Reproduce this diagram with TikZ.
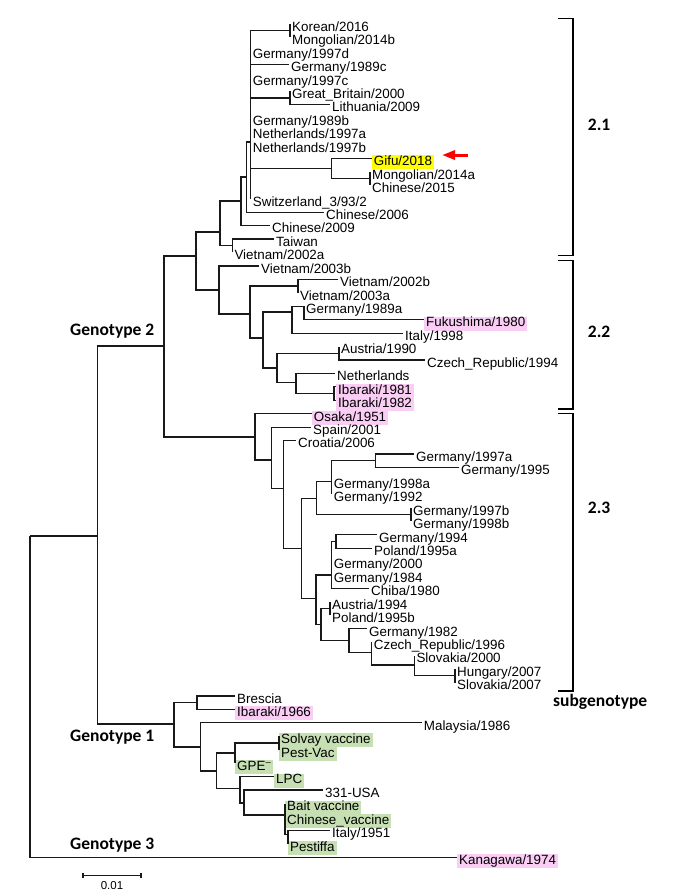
\documentclass[tikz,border=0pt]{standalone}
\usepackage{fontspec}
\setmainfont{Liberation Sans}
\newfontfamily\calibri{Carlito}
\usetikzlibrary{arrows.meta}
\definecolor{pinkhl}{RGB}{250,205,245}
\definecolor{greenhl}{RGB}{198,224,180}
\definecolor{gifuhl}{RGB}{255,255,0}

\begin{document}
\begin{tikzpicture}[x=1pt, y=-13.44pt,
  branch/.style={line width=1.2pt, black!90},
  leaf/.style={inner xsep=2pt, inner ysep=0.7pt, text height=9.6pt, text depth=3pt, yshift=-4pt, font=\fontsize{13.4}{15}\selectfont},
  pinkleaf/.style={leaf, fill=pinkhl},
  greenleaf/.style={leaf, fill=greenhl},
  genolabel/.style={anchor=base west, inner sep=0pt, font=\calibri\bfseries\fontsize{17.5}{20}\selectfont},
  bracket/.style={line width=1.3pt},
  gifuarrow/.style={red, line width=3pt, -{Triangle[length=13pt, width=9pt]}}]
\useasboundingbox (0,-1.786) rectangle (700,64.658);

% inner nodes of the tree
\coordinate (root) at (30,38.1);
\coordinate (n12) at (97.7,38.1);
\coordinate (geno2) at (164,23.96);
\coordinate (geno1) at (174,52.08);
% subgenotype 2.1
\coordinate (n2a) at (196,17.26);
\coordinate (n21) at (220,15.48);
\coordinate (n21c) at (241,13.17);
\coordinate (n21b) at (246.7,11.38);
\coordinate (n21a) at (250.7,8.78);
\coordinate (nkm) at (290,0.5);
\coordinate (ngl) at (290,5.5);
\coordinate (ngifu) at (331.7,10.74);
\coordinate (nmc) at (370,11.5);
\coordinate (ntv) at (232.3,16.5);
% subgenotype 2.2
\coordinate (n22) at (219,19.79);
\coordinate (n22a) at (250,21.58);
\coordinate (nvn) at (298,19.5);
\coordinate (n22b) at (263,23.36);
\coordinate (n22c) at (292,21.43);
\coordinate (nfuku) at (304,21);
\coordinate (n22d) at (277,25.6);
\coordinate (ncz) at (339,24.5);
\coordinate (nnl) at (296,26.7);
\coordinate (niba) at (334,27.5);
% subgenotype 2.3
\coordinate (n23) at (255,30.73);
\coordinate (n23a) at (271.7,32.44);
\coordinate (n23b) at (283.3,34.55);
\coordinate (n23c) at (301.7,39);
\coordinate (n23d) at (316.7,35.29);
\coordinate (n23e) at (331.7,34.05);
\coordinate (nger95) at (375.7,32.5);
\coordinate (nger98) at (411,36.5);
\coordinate (n23f) at (316,42.73);
\coordinate (n23g) at (331.7,41);
\coordinate (npol) at (336,38.5);
\coordinate (n23h) at (321,44.67);
\coordinate (naus) at (330,43.5);
\coordinate (n23i) at (349,45.88);
\coordinate (n23j) at (371.7,46.75);
\coordinate (n23k) at (414.3,47.69);
\coordinate (nslk) at (455,48.5);
% genotype 1
\coordinate (nbre) at (197,50.5);
\coordinate (n1a) at (200.7,53.79);
\coordinate (n1b) at (216.7,55.58);
\coordinate (n1c) at (235,54.24);
\coordinate (nsolvay) at (279,53.5);
\coordinate (n1d) at (240,56.9);
\coordinate (n1e) at (244,57.96);
\coordinate (nbait) at (285,58.85);
\coordinate (nita) at (288,60.3);

% leaves
\coordinate[label={[leaf]right:Korean/2016}] (korean) at (290,0);
\coordinate[label={[leaf]right:Mongolian/2014b}] (mong14b) at (290,1);
\coordinate[label={[leaf]right:Germany/1997d}] (ger97d) at (250.7,2);
\coordinate[label={[leaf]right:Germany/1989c}] (ger89c) at (289,3);
\coordinate[label={[leaf]right:Germany/1997c}] (ger97c) at (250.7,4);
\coordinate[label={[leaf]right:Great\_Britain/2000}] (gb) at (290,5);
\coordinate[label={[leaf]right:Lithuania/2009}] (lith) at (330,6);
\coordinate[label={[leaf]right:Germany/1989b}] (ger89b) at (250.7,7);
\coordinate[label={[leaf]right:Netherlands/1997a}] (nl97a) at (250.7,8);
\coordinate[label={[leaf]right:Netherlands/1997b}] (nl97b) at (250.7,9);
\coordinate[label={[leaf,fill=gifuhl]right:Gifu/2018}] (gifu) at (371.7,10);
\coordinate[label={[leaf]right:Mongolian/2014a}] (mong14a) at (370,11);
\coordinate[label={[leaf]right:Chinese/2015}] (chn15) at (370,12);
\coordinate[label={[leaf]right:Switzerland\_3/93/2}] (swiss) at (250.7,13);
\coordinate[label={[leaf]right:Chinese/2006}] (chn06) at (324,14);
\coordinate[label={[leaf]right:Chinese/2009}] (chn09) at (270,15);
\coordinate[label={[leaf]right:Taiwan}] (taiwan) at (274,16);
\coordinate[label={[leaf]right:Vietnam/2002a}] (vn02a) at (232.3,17);
\coordinate[label={[leaf]right:Vietnam/2003b}] (vn03b) at (259,18);
\coordinate[label={[leaf]right:Vietnam/2002b}] (vn02b) at (338,19);
\coordinate[label={[leaf]right:Vietnam/2003a}] (vn03a) at (298,20);
\coordinate[label={[leaf]right:Germany/1989a}] (ger89a) at (304,21);
\coordinate[label={[pinkleaf]right:Fukushima/1980}] (fuku) at (424,22);
\coordinate[label={[leaf]right:Italy/1998}] (ita98) at (403,23);
\coordinate[label={[leaf]right:Austria/1990}] (aus90) at (339,24);
\coordinate[label={[leaf]right:Czech\_Republic/1994}] (cz94) at (425,25);
\coordinate[label={[leaf]right:Netherlands}] (nl) at (335,26);
\coordinate[label={[pinkleaf]right:Ibaraki/1981}] (iba81) at (336,27);
\coordinate[label={[pinkleaf]right:Ibaraki/1982}] (iba82) at (336,28);
\coordinate[label={[pinkleaf]right:Osaka/1951}] (osaka) at (311.7,29);
\coordinate[label={[leaf]right:Spain/2001}] (spain) at (311,30);
\coordinate[label={[leaf]right:Croatia/2006}] (croatia) at (296,31);
\coordinate[label={[leaf]right:Germany/1997a}] (ger97a) at (414,32);
\coordinate[label={[leaf]right:Germany/1995}] (ger95) at (459,33);
\coordinate[label={[leaf]right:Germany/1998a}] (ger98a) at (331.7,34);
\coordinate[label={[leaf]right:Germany/1992}] (ger92) at (331.7,35);
\coordinate[label={[leaf]right:Germany/1997b}] (ger97b) at (411,36);
\coordinate[label={[leaf]right:Germany/1998b}] (ger98b) at (411,37);
\coordinate[label={[leaf]right:Germany/1994}] (ger94) at (377,38);
\coordinate[label={[leaf]right:Poland/1995a}] (pol95a) at (372,39);
\coordinate[label={[leaf]right:Germany/2000}] (ger00) at (331.7,40);
\coordinate[label={[leaf]right:Germany/1984}] (ger84) at (331.7,41);
\coordinate[label={[leaf]right:Chiba/1980}] (chiba) at (369,42);
\coordinate[label={[leaf]right:Austria/1994}] (aus94) at (330,43);
\coordinate[label={[leaf]right:Poland/1995b}] (pol95b) at (330,44);
\coordinate[label={[leaf]right:Germany/1982}] (ger82) at (367,45);
\coordinate[label={[leaf]right:Czech\_Republic/1996}] (cz96) at (371.7,46);
\coordinate[label={[leaf]right:Slovakia/2000}] (slk00) at (414.3,47);
\coordinate[label={[leaf]right:Hungary/2007}] (hun07) at (455,48);
\coordinate[label={[leaf]right:Slovakia/2007}] (slk07) at (455,49);
\coordinate[label={[leaf]right:Brescia}] (brescia) at (235,50);
\coordinate[label={[pinkleaf]right:Ibaraki/1966}] (iba66) at (235,51);
\coordinate[label={[leaf]right:Malaysia/1986}] (malaysia) at (421.7,52);
\coordinate[label={[greenleaf]right:Solvay vaccine}] (solvay) at (279,53);
\coordinate[label={[greenleaf]right:Pest-Vac}] (pestvac) at (279,54);
\coordinate[label={[greenleaf]right:GPE\textsuperscript{–}}] (gpe) at (235,55);
\coordinate[label={[greenleaf]right:LPC}] (lpc) at (274,56);
\coordinate[label={[leaf]right:331-USA}] (usa) at (323,57);
\coordinate[label={[greenleaf]right:Bait vaccine}] (bait) at (285,58);
\coordinate[label={[greenleaf]right:Chinese\_vaccine}] (chnvac) at (285,59);
\coordinate[label={[leaf]right:Italy/1951}] (ita51) at (330,60);
\coordinate[label={[greenleaf]right:Pestiffa}] (pestiffa) at (288,61);
\coordinate[label={[pinkleaf]right:Kanagawa/1974}] (kanagawa) at (457,62);

% branches
\foreach \mom/\kids in {
  root/{n12,kanagawa}, n12/{geno2,geno1},
  geno2/{n2a,n23}, n2a/{n21,n22},
  n21/{n21c,ntv}, n21c/{n21b,chn09}, n21b/{n21a,chn06},
  n21a/{nkm,ger97d,ger89c,ger97c,ngl,ger89b,nl97a,nl97b,ngifu,swiss},
  nkm/{korean,mong14b}, ngl/{gb,lith}, ngifu/{gifu,nmc}, nmc/{mong14a,chn15},
  ntv/{taiwan,vn02a},
  n22/{vn03b,n22a}, n22a/{nvn,n22b}, nvn/{vn02b,vn03a}, n22b/{n22c,n22d},
  n22c/{nfuku,ita98}, nfuku/{ger89a,fuku}, n22d/{ncz,nnl}, ncz/{aus90,cz94},
  nnl/{nl,niba}, niba/{iba81,iba82},
  n23/{osaka,n23a}, n23a/{spain,n23b}, n23b/{croatia,n23c}, n23c/{n23d,n23f},
  n23d/{n23e,nger98}, n23e/{nger95,ger98a,ger92}, nger95/{ger97a,ger95},
  nger98/{ger97b,ger98b}, n23f/{n23g,n23h}, n23g/{npol,ger00,ger84,chiba},
  npol/{ger94,pol95a}, n23h/{naus,n23i}, naus/{aus94,pol95b},
  n23i/{ger82,n23j}, n23j/{cz96,n23k}, n23k/{slk00,nslk}, nslk/{hun07,slk07},
  geno1/{nbre,n1a}, nbre/{brescia,iba66}, n1a/{malaysia,n1b}, n1b/{n1c,n1d},
  n1c/{nsolvay,gpe}, nsolvay/{solvay,pestvac}, n1d/{lpc,n1e}, n1e/{usa,nbait},
  nbait/{bait,chnvac,nita}, nita/{ita51,pestiffa}}
  \foreach \kid in \kids {\draw[branch] (\mom) |- (\kid);}

% genotype labels
\node[genolabel] (lab2) at (70,23.21) {Genotype 2};
\node[genolabel] (lab1) at (70,53.40) {Genotype 1};
\node[genolabel] (lab3) at (70,61.41) {Genotype 3};

% subgenotype brackets
\draw[bracket] (558,-0.43) -| (573,17.23) -- (558,17.23);
\draw[bracket] (558,17.58) -| (573,28.65) -- (558,28.65);
\draw[bracket] (558,29.0) -| (573,49.63) -- (558,49.63);
\node[genolabel] (sub21) at (587.7,7.96) {2.1};
\node[genolabel] (sub22) at (587.7,23.29) {2.2};
\node[genolabel] (sub23) at (587.7,36.43) {2.3};
\node[genolabel] (subg) at (553,50.8) {subgenotype};

% arrow to Gifu/2018
\coordinate (arrowtail) at (468,9.75);
\coordinate (arrowtip) at (442,9.75);
\draw[gifuarrow] (arrowtail) -- (arrowtip);

% scale bar
\coordinate (sbl) at (83,63.37);
\coordinate (sbr) at (141,63.37);
\draw[branch] (sbl) -- (sbr);
\draw[branch] ([yshift=2.5pt]sbl) -- ([yshift=-2.5pt]sbl);
\draw[branch] ([yshift=2.5pt]sbr) -- ([yshift=-2.5pt]sbr);
\node[font=\fontsize{11.5}{13}\selectfont, anchor=base] (sblab) at (112,64.36) {0.01};
\end{tikzpicture}
\end{document}
